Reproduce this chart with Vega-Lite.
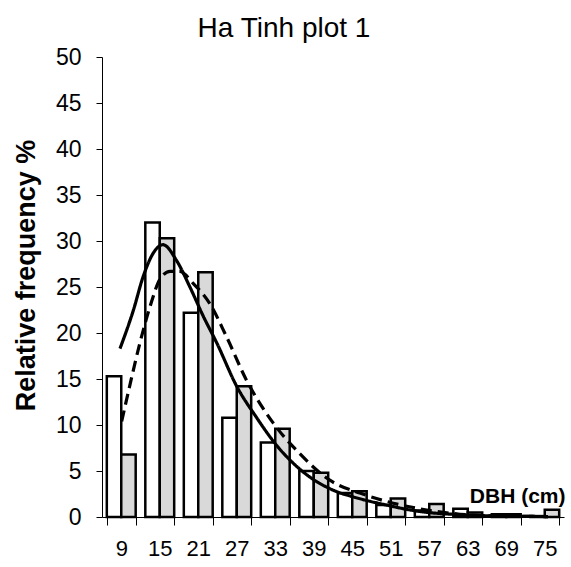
{
  "$schema": "https://vega.github.io/schema/vega-lite/v6.json",
  "autosize": "none",
  "width": 462,
  "height": 460,
  "padding": {"left": 102, "top": 57, "right": 7, "bottom": 50},
  "background": "white",
  "title": {
    "text": "Ha Tinh plot 1",
    "font": "Liberation Sans",
    "fontSize": 28,
    "fontWeight": "normal",
    "color": "black",
    "anchor": "middle",
    "frame": "group",
    "dx": -49,
    "dy": 37,
    "baseline": "bottom",
    "offset": 12
  },
  "config": {
    "view": {"stroke": null},
    "axis": {
      "domainColor": "black",
      "tickColor": "black",
      "labelColor": "black",
      "titleColor": "black",
      "labelFont": "Liberation Sans",
      "titleFont": "Liberation Sans",
      "grid": false,
      "domainWidth": 1,
      "tickWidth": 1
    }
  },
  "layer": [
    {
      "data": {
        "values": [
          {"DBH": 9, "series": "A", "value": 15.3},
          {"DBH": 9, "series": "B", "value": 6.8},
          {"DBH": 15, "series": "A", "value": 32.0},
          {"DBH": 15, "series": "B", "value": 30.3},
          {"DBH": 21, "series": "A", "value": 22.2},
          {"DBH": 21, "series": "B", "value": 26.6},
          {"DBH": 27, "series": "A", "value": 10.8},
          {"DBH": 27, "series": "B", "value": 14.2},
          {"DBH": 33, "series": "A", "value": 8.1},
          {"DBH": 33, "series": "B", "value": 9.6},
          {"DBH": 39, "series": "A", "value": 5.0},
          {"DBH": 39, "series": "B", "value": 4.8},
          {"DBH": 45, "series": "A", "value": 2.6},
          {"DBH": 45, "series": "B", "value": 2.8},
          {"DBH": 51, "series": "A", "value": 1.3},
          {"DBH": 51, "series": "B", "value": 2.0},
          {"DBH": 57, "series": "A", "value": 0.7},
          {"DBH": 57, "series": "B", "value": 1.4},
          {"DBH": 63, "series": "A", "value": 0.9},
          {"DBH": 63, "series": "B", "value": 0.5},
          {"DBH": 69, "series": "A", "value": 0.3},
          {"DBH": 69, "series": "B", "value": 0.3},
          {"DBH": 75, "series": "A", "value": 0.1},
          {"DBH": 75, "series": "B", "value": 0.8}
        ]
      },
      "mark": {"type": "bar", "stroke": "black", "strokeWidth": 2.5},
      "encoding": {
        "x": {
          "field": "DBH",
          "type": "ordinal",
          "sort": "ascending",
          "scale": {"paddingInner": 0.25, "paddingOuter": 0.125},
          "axis": {
            "tickBand": "extent",
            "labelAngle": 0,
            "labelFontSize": 22,
            "labelPadding": 13,
            "tickSize": 8,
            "title": "DBH (cm)",
            "titleFontSize": 21,
            "titleFontWeight": "bold",
            "titleAlign": "right",
            "titleAnchor": null,
            "titleX": 463,
            "titleY": -21,
            "titleBaseline": "middle"
          }
        },
        "xOffset": {"field": "series", "type": "nominal", "scale": {"paddingInner": 0}},
        "fill": {
          "field": "series",
          "type": "nominal",
          "scale": {"domain": ["A", "B"], "range": ["white", "#d9d9d9"]},
          "legend": null
        },
        "y": {
          "field": "value",
          "type": "quantitative",
          "scale": {"domain": [0, 50], "nice": false},
          "axis": {
            "values": [0, 5, 10, 15, 20, 25, 30, 35, 40, 45, 50],
            "labelFontSize": 23,
            "labelPadding": 15,
            "tickSize": 6,
            "title": "Relative frequency %",
            "titleFontSize": 27,
            "titleFontWeight": "bold",
            "titlePadding": 15,
            "titleY": 218
          }
        }
      }
    },
    {
      "data": {
        "values": [
          {"DBH": 8.8, "curve": "solid", "value": 18.3},
          {"DBH": 10.9, "curve": "solid", "value": 22.5},
          {"DBH": 12.4, "curve": "solid", "value": 26.1},
          {"DBH": 14.0, "curve": "solid", "value": 28.7},
          {"DBH": 15.5, "curve": "solid", "value": 29.6},
          {"DBH": 17.6, "curve": "solid", "value": 27.9},
          {"DBH": 19.7, "curve": "solid", "value": 25.0},
          {"DBH": 21.8, "curve": "solid", "value": 21.8},
          {"DBH": 23.9, "curve": "solid", "value": 18.9},
          {"DBH": 27.0, "curve": "solid", "value": 14.2},
          {"DBH": 30.0, "curve": "solid", "value": 10.9},
          {"DBH": 33.2, "curve": "solid", "value": 7.8},
          {"DBH": 36.5, "curve": "solid", "value": 5.4},
          {"DBH": 42.6, "curve": "solid", "value": 2.75},
          {"DBH": 45.1, "curve": "solid", "value": 2.2},
          {"DBH": 50.3, "curve": "solid", "value": 1.3},
          {"DBH": 55.5, "curve": "solid", "value": 0.6},
          {"DBH": 62.0, "curve": "solid", "value": 0.25},
          {"DBH": 68.0, "curve": "solid", "value": 0.1},
          {"DBH": 75.5, "curve": "solid", "value": 0.05},
          {"DBH": 9.07, "curve": "dashed", "value": 10.4},
          {"DBH": 10.4, "curve": "dashed", "value": 14.5},
          {"DBH": 11.9, "curve": "dashed", "value": 18.9},
          {"DBH": 13.5, "curve": "dashed", "value": 22.9},
          {"DBH": 15.0, "curve": "dashed", "value": 25.8},
          {"DBH": 16.6, "curve": "dashed", "value": 26.7},
          {"DBH": 18.1, "curve": "dashed", "value": 26.7},
          {"DBH": 20.2, "curve": "dashed", "value": 25.4},
          {"DBH": 22.8, "curve": "dashed", "value": 23.2},
          {"DBH": 25.4, "curve": "dashed", "value": 19.6},
          {"DBH": 28.5, "curve": "dashed", "value": 14.9},
          {"DBH": 32.7, "curve": "dashed", "value": 10.2},
          {"DBH": 36.8, "curve": "dashed", "value": 6.9},
          {"DBH": 41.5, "curve": "dashed", "value": 4.0},
          {"DBH": 46.2, "curve": "dashed", "value": 2.6},
          {"DBH": 51.4, "curve": "dashed", "value": 1.5},
          {"DBH": 56.6, "curve": "dashed", "value": 0.76},
          {"DBH": 61.8, "curve": "dashed", "value": 0.3},
          {"DBH": 68.0, "curve": "dashed", "value": 0.1},
          {"DBH": 75.5, "curve": "dashed", "value": 0.05}
        ]
      },
      "mark": {"type": "line", "color": "black", "strokeWidth": 3.2, "interpolate": "monotone"},
      "encoding": {
        "x": {
          "field": "DBH",
          "type": "quantitative",
          "scale": {"domain": [6, 78], "nice": false, "zero": false},
          "axis": null
        },
        "y": {
          "field": "value",
          "type": "quantitative",
          "scale": {"domain": [0, 50], "nice": false}
        },
        "strokeDash": {
          "field": "curve",
          "type": "nominal",
          "scale": {"domain": ["solid", "dashed"], "range": [[1, 0], [11, 6]]},
          "legend": null
        }
      }
    }
  ],
  "resolve": {"scale": {"x": "independent"}, "axis": {"x": "independent"}}
}
